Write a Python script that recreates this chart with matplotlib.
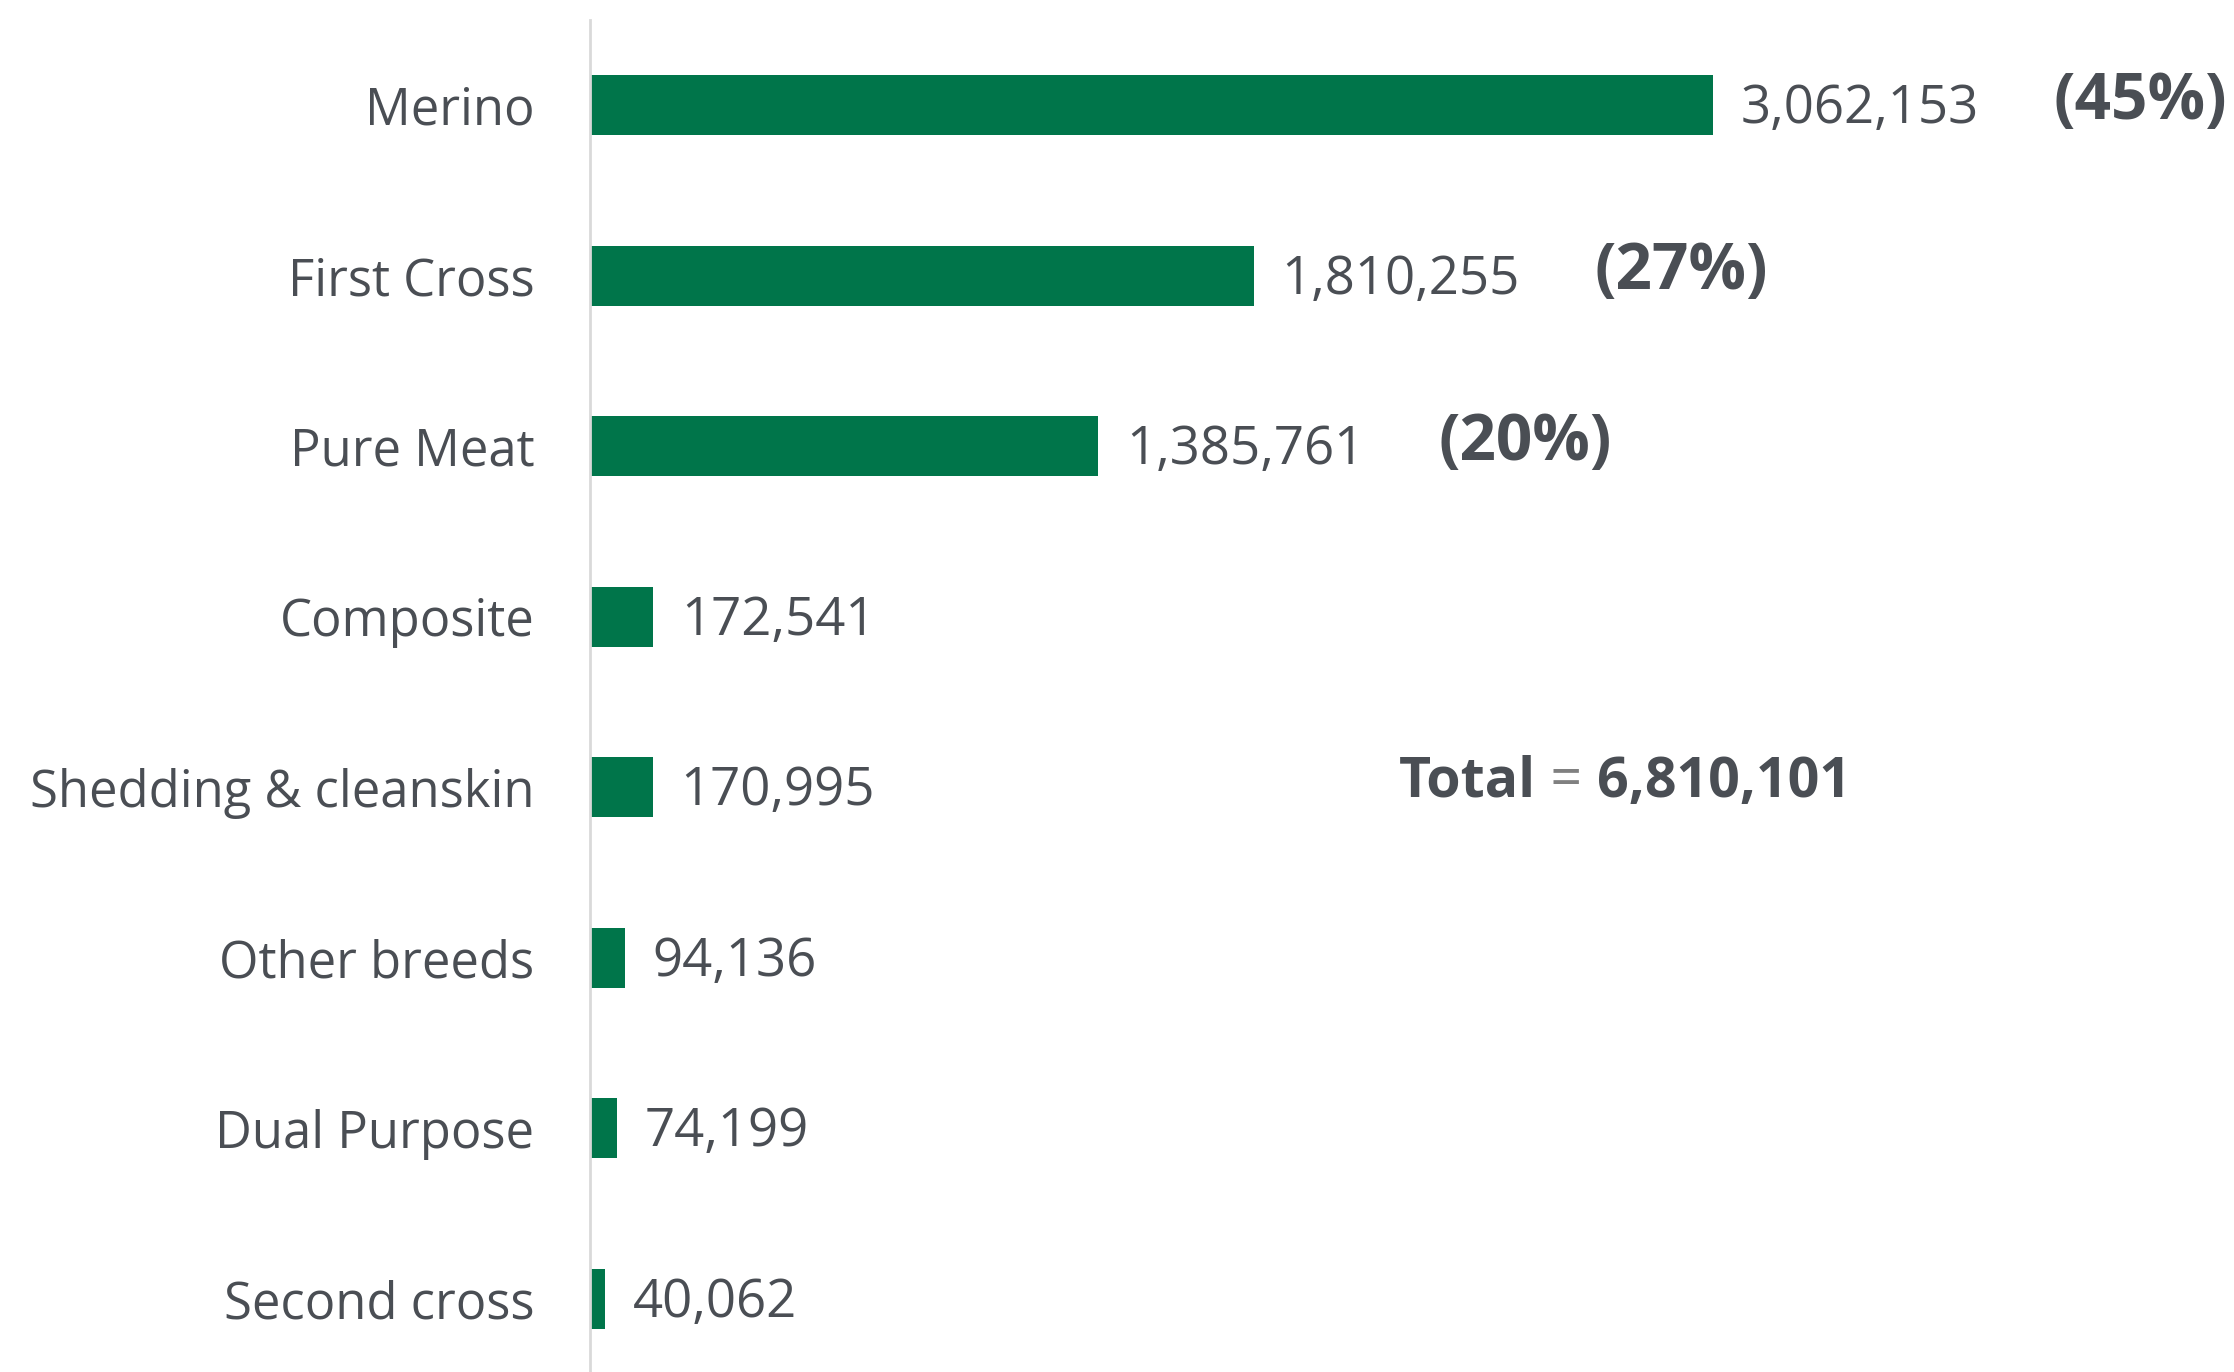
import matplotlib
matplotlib.use("Agg")
import matplotlib.pyplot as plt

# breeds, top to bottom
breeds = ["Merino", "First Cross", "Pure Meat", "Composite",
          "Shedding & cleanskin", "Other breeds", "Dual Purpose", "Second cross"]
counts = [3062153, 1810255, 1385761, 172541, 170995, 94136, 74199, 40062]
total = 6810101
# only the three big ones get a share label
share_breeds = ["Merino", "First Cross", "Pure Meat"]

GREEN = "#00754A"
TXT = "#4A4E54"

plt.rcParams['font.family'] = ['Open Sans', 'DejaVu Sans']

fig = plt.figure(figsize=(22.34, 13.72), dpi=100)
ax = fig.add_axes([590 / 2234, 0.0, 1 - 590 / 2234, 1 - 20 / 1372])

ypos = list(range(len(breeds)))
ax.barh(ypos, counts, height=0.35, color=GREEN)

ax.set_ylim(7.43, -0.5)
ax.set_xlim(0, 1644 / 1123 * counts[0])

ax.set_yticks(ypos)
ax.set_yticklabels(breeds, fontsize=36.5, color=TXT)
ax.tick_params(axis='y', length=0, pad=40)
ax.set_xticks([])

for s in ["top", "right", "bottom"]:
    ax.spines[s].set_visible(False)
ax.spines["left"].set_color("#D9D9D9")
ax.spines["left"].set_linewidth(2)

# value labels
for y, v in zip(ypos, counts):
    ax.annotate(f"{v:,}", xy=(v, y), xytext=(20, -3), textcoords="offset points",
                va="center", ha="left", fontsize=38, color=TXT)

# share labels
for y, (b, v) in enumerate(zip(breeds, counts)):
    if b in share_breeds:
        ax.annotate(f"({round(v / total * 100):.0f}%)", xy=(v, y), xytext=(245, 2),
                    textcoords="offset points", va="center", ha="left",
                    fontsize=46, fontweight="bold", color=TXT)

# total
t1 = ax.text(1399 / 2234, 1 - 782 / 1372, "Total", transform=fig.transFigure,
             fontsize=40, fontweight="bold", color=TXT, va="center", ha="left")
t2 = ax.annotate(" = ", xy=(1, 0), xycoords=t1, va="bottom", ha="left",
                 fontsize=40, color="#808080")
ax.annotate(f"{total:,}", xy=(1, 0), xycoords=t2, va="bottom", ha="left",
            fontsize=40, fontweight="bold", color=TXT)

fig.savefig("out.png", dpi=100, facecolor="white")
